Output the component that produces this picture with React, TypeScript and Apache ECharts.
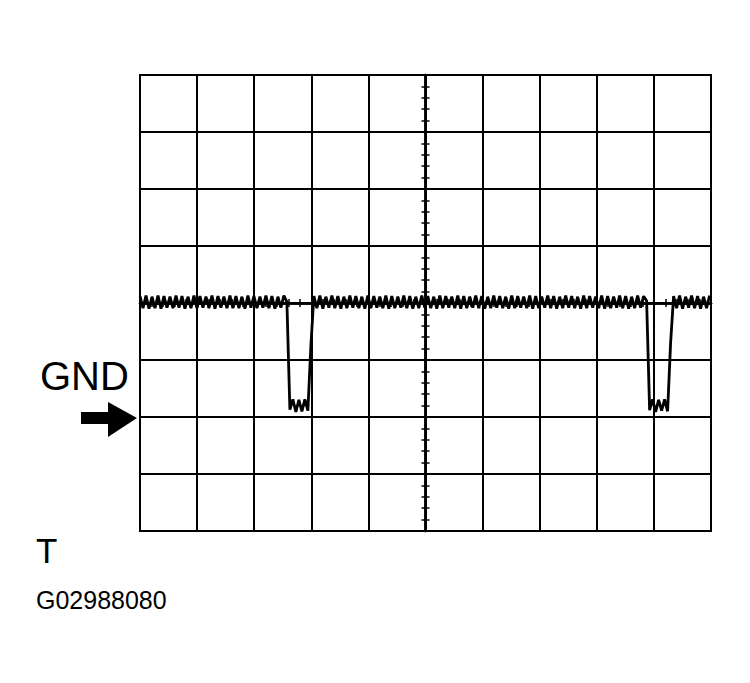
import React, { useEffect, useRef } from 'react';
import * as echarts from 'echarts';

// scope trace, sampled every SAMPLE_STEP divisions (x 0..10 div, y in div above GND)
const SAMPLE_STEP = 0.0525;

const rippleA = [
  2.12, 1.91, 2.13, 1.9, 2.11, 1.91, 2.13, 1.9, 2.12, 1.92,
  2.11, 1.91, 2.13, 1.92, 2.12, 1.9, 2.11, 1.91, 2.13, 1.91,
  2.12, 1.92, 2.11, 1.91, 2.13, 1.9, 2.12, 1.92, 2.11, 1.91,
  2.13, 1.91, 2.12, 1.91, 2.11, 1.9, 2.13, 1.92, 2.12, 1.91,
  2.11, 1.92, 2.13, 1.91, 2.12, 1.9, 2.11, 1.92, 2.13, 2.02,
];
const dipA = [0.13, 0.31, 0.09, 0.3, 0.1, 0.31, 0.11, 1.25];
const rippleB = [
  2.12, 1.91, 2.13, 1.9, 2.11, 1.92, 2.13, 1.91, 2.12, 1.9,
  2.11, 1.91, 2.13, 1.92, 2.12, 1.91, 2.11, 1.9, 2.13, 1.91,
  2.12, 1.92, 2.11, 1.91, 2.13, 1.9, 2.12, 1.91, 2.11, 1.92,
  2.13, 1.91, 2.12, 1.9, 2.11, 1.91, 2.13, 1.92, 2.12, 1.91,
  2.11, 1.9, 2.13, 1.91, 2.12, 1.92, 2.11, 1.91, 2.13, 1.9,
  2.12, 1.91, 2.11, 1.92, 2.13, 1.91, 2.12, 1.9, 2.11, 1.91,
  2.13, 1.92, 2.12, 1.91, 2.11, 1.9, 2.13, 1.91, 2.12, 1.92,
  2.11, 1.91, 2.13, 1.9, 2.12, 1.91, 2.11, 1.92, 2.13, 1.91,
  2.12, 1.9, 2.11, 1.91, 2.13, 1.92, 2.12, 1.91, 2.11, 1.9,
  2.13, 1.91, 2.12, 1.92, 2.11, 1.91, 2.13, 1.9, 2.12, 1.91,
  2.11, 1.92, 2.13, 1.91, 2.12, 1.9, 2.11, 1.91, 2.13, 1.92,
  2.12, 2.04,
];
const dipB = [0.12, 0.31, 0.09, 0.3, 0.11, 0.31, 0.1, 1.3];
const rippleC = [2.12, 1.91, 2.13, 1.9, 2.11, 1.92, 2.13, 1.91, 2.12, 1.9, 2.11, 1.91, 2.13];

const samples = [...rippleA, ...dipA, ...rippleB, ...dipB, ...rippleC];

const labelGnd = 'GND';
const labelTime = 'T';
const figureId = 'G02988080';

const FONT = '"Liberation Sans", Arial, sans-serif';

const centerAxisX = (position: 'top' | 'bottom') => ({
  type: 'value' as const,
  min: -5,
  max: 5,
  interval: 1,
  position,
  axisLine: { show: true, onZero: true, onZeroAxisIndex: 1, lineStyle: { color: '#000', width: 2.5 } },
  axisTick: { show: false },
  minorTick: { show: true, splitNumber: 5, length: 4, lineStyle: { color: '#000', width: 1.5 } },
  axisLabel: { show: false },
  splitLine: { show: false },
});

const centerAxisY = (position: 'left' | 'right') => ({
  type: 'value' as const,
  min: -4,
  max: 4,
  interval: 1,
  position,
  axisLine: { show: true, onZero: true, onZeroAxisIndex: 1, lineStyle: { color: '#000', width: 2.5 } },
  axisTick: { show: false },
  minorTick: { show: true, splitNumber: 5, length: 4, lineStyle: { color: '#000', width: 1.5 } },
  axisLabel: { show: false },
  splitLine: { show: false },
});

const App: React.FC = () => {
  const chartRef = useRef<HTMLDivElement>(null);

  useEffect(() => {
    if (!chartRef.current) return;
    const chart = echarts.init(chartRef.current, undefined, { renderer: 'svg' });

    chart.setOption({
      animation: false,
      backgroundColor: '#fff',
      grid: {
        left: 140,
        right: 39,
        top: 75,
        bottom: 152,
        show: true,
        borderColor: '#000',
        borderWidth: 2,
      },
      xAxis: [
        {
          type: 'value',
          min: 0,
          max: 10,
          interval: 1,
          axisLine: { show: false },
          axisTick: { show: false },
          axisLabel: { show: false },
          splitLine: { show: true, lineStyle: { color: '#000', width: 2 } },
        },
        centerAxisX('bottom'),
        centerAxisX('top'),
      ],
      yAxis: [
        {
          type: 'value',
          min: -2,
          max: 6,
          interval: 1,
          axisLine: { show: false },
          axisTick: { show: false },
          axisLabel: { show: false },
          splitLine: { show: true, lineStyle: { color: '#000', width: 2 } },
        },
        centerAxisY('left'),
        centerAxisY('right'),
      ],
      series: [
        {
          type: 'line',
          xAxisIndex: 0,
          yAxisIndex: 0,
          data: samples.map((v, i) => [i * SAMPLE_STEP, v]),
          showSymbol: false,
          symbol: 'none',
          clip: true,
          lineStyle: { color: '#000', width: 2.8 },
          z: 5,
        },
      ],
      graphic: [
        {
          type: 'text',
          x: 40,
          y: 376,
          style: { text: labelGnd, font: `40px ${FONT}`, fill: '#000', verticalAlign: 'middle' },
        },
        {
          type: 'polygon',
          shape: {
            points: [
              [81, 412],
              [108, 412],
              [108, 402],
              [137, 418],
              [108, 437],
              [108, 424],
              [81, 424],
            ],
          },
          style: { fill: '#000' },
        },
        {
          type: 'text',
          x: 36,
          y: 550,
          style: { text: labelTime, font: `35px ${FONT}`, fill: '#000', verticalAlign: 'middle' },
        },
        {
          type: 'text',
          x: 36,
          y: 600,
          style: { text: figureId, font: `25px ${FONT}`, fill: '#000', verticalAlign: 'middle' },
        },
      ],
    });

    return () => {
      chart.dispose();
    };
  }, []);

  return (
    <div
      ref={chartRef}
      style={{ position: 'absolute', left: 0, top: 0, width: '750px', height: '683px' }}
    ></div>
  );
};

export default App;
